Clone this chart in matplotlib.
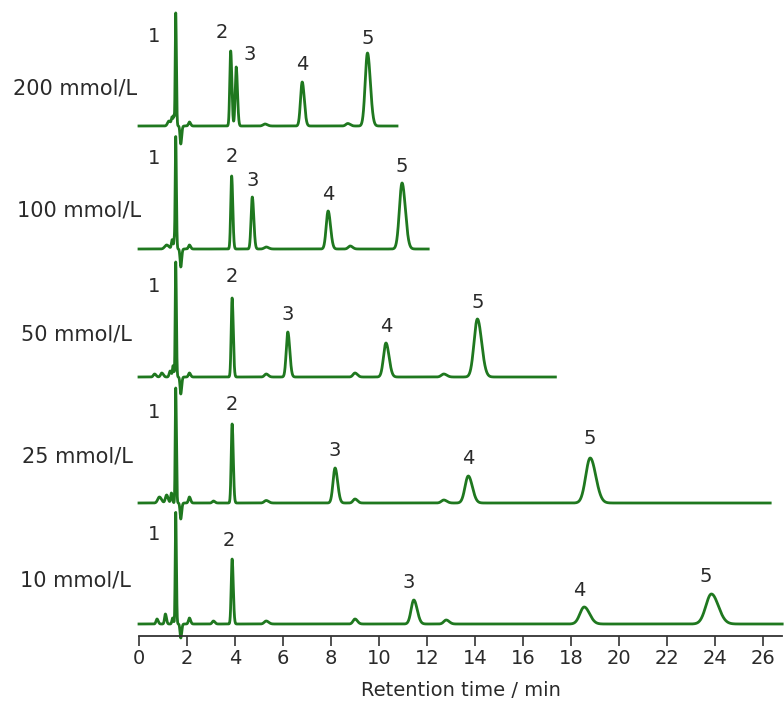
#!/usr/bin/env python3
# Stacked ion chromatograms at five eluent concentrations (peaks 1-5)
import numpy as np
import matplotlib
matplotlib.use("Agg")
import matplotlib.pyplot as plt

# ---- data (times in min, heights in px-ish units) ----
concs = ["200 mmol/L", "100 mmol/L", "50 mmol/L", "25 mmol/L", "10 mmol/L"]
run_end = [10.75, 12.05, 17.35, 26.3, 26.8]

# main analyte peaks 1..5
rt_200 = [1.53, 3.82, 4.05, 6.80, 9.52]
h_200 = [113, 75, 59, 44, 73]
sd_200 = [0.022, 0.038, 0.042, 0.070, 0.095]

rt_100 = [1.53, 3.86, 4.72, 7.88, 10.96]
h_100 = [112, 73, 52, 38, 66]
sd_100 = [0.022, 0.038, 0.050, 0.080, 0.110]

rt_50 = [1.53, 3.88, 6.20, 10.29, 14.10]
h_50 = [115, 79, 45, 34, 58]
sd_50 = [0.022, 0.038, 0.065, 0.102, 0.140]

rt_25 = [1.53, 3.88, 8.17, 13.72, 18.80]
h_25 = [115, 79, 35, 27, 45]
sd_25 = [0.022, 0.038, 0.085, 0.135, 0.185]

rt_10 = [1.53, 3.88, 11.45, 18.55, 23.85]
h_10 = [112, 65, 24, 17, 30]
sd_10 = [0.022, 0.038, 0.112, 0.178, 0.230]

# small system peaks / dip after the void peak
mrt_200 = [1.25, 1.38, 1.45, 1.74, 2.10, 5.25, 8.70]
mh_200 = [5, 8, 9, -18, 4, 2, 2.5]
msd_200 = [0.06, 0.03, 0.02, 0.03, 0.04, 0.08, 0.08]

mrt_100 = [1.15, 1.38, 1.47, 1.74, 2.10, 5.30, 8.80]
mh_100 = [4, 9, 9, -18, 4, 2, 3]
msd_100 = [0.08, 0.03, 0.02, 0.03, 0.04, 0.08, 0.08]

mrt_50 = [0.65, 0.95, 1.30, 1.42, 1.74, 2.10, 5.30, 9.00, 12.70]
mh_50 = [3, 4, 6, 11, -17, 4, 3, 4, 3]
msd_50 = [0.05, 0.05, 0.04, 0.025, 0.03, 0.04, 0.07, 0.08, 0.10]

mrt_25 = [0.85, 1.15, 1.35, 1.74, 2.10, 3.10, 5.30, 9.00, 12.70]
mh_25 = [6, 8, 10, -16, 6, 2, 2.5, 4, 3]
msd_25 = [0.07, 0.05, 0.03, 0.03, 0.04, 0.05, 0.08, 0.08, 0.10]

mrt_10 = [0.75, 1.10, 1.40, 1.74, 2.10, 3.10, 5.30, 9.00, 12.80]
mh_10 = [5, 10, 6, -14, 6, 3, 3, 5, 4]
msd_10 = [0.04, 0.035, 0.03, 0.03, 0.04, 0.05, 0.08, 0.08, 0.10]

xticks = list(range(0, 27, 2))

runs = [
    (rt_200, h_200, sd_200, mrt_200, mh_200, msd_200),
    (rt_100, h_100, sd_100, mrt_100, mh_100, msd_100),
    (rt_50, h_50, sd_50, mrt_50, mh_50, msd_50),
    (rt_25, h_25, sd_25, mrt_25, mh_25, msd_25),
    (rt_10, h_10, sd_10, mrt_10, mh_10, msd_10),
]

# ---- layout (pixels) ----
W, H = 784, 704
x0_px, axis_px, right_px = 139, 636, 782
px_per_min = 24.0
offsets = [510, 387, 259, 133, 12]          # baseline height above axis
label_gap = 17
# per-run label nudges (dx in min, dy in px) for peaks 2..5
nudges = [
    [(-0.35, 1), (0.55, -5), (0, 0), (0, -2)],
    [(0, 3), (0, 0), (0, 0), (0, 0)],
    [(0, 5), (0, 0), (0, 0), (0, 0)],
    [(0, 2), (0, 0), (0, 0), (0, 3)],
    [(-0.15, 2), (-0.2, 0), (-0.2, 0), (-0.25, 0)],
]
name_right = [-0.08, 0.08, -0.3, -0.25, -0.33]
name_dy = [37, 39, 42, 46, 44]

GREEN = "#1f781f"
TXT = "#2a2a2a"
plt.rcParams["font.family"] = ["DejaVu Sans"]

fig = plt.figure(figsize=(W / 100, H / 100), dpi=100)
ax = fig.add_axes([x0_px / W, (H - axis_px) / H,
                   (right_px - x0_px) / W, axis_px / H])
xmax = (right_px - x0_px) / px_per_min
ax.set_xlim(0, xmax)
ax.set_ylim(0, axis_px)


def chromatogram(t, rts, hs, sds, tail=1.25):
    y = np.zeros_like(t)
    for rt, h, sd in zip(rts, hs, sds):
        s = np.where(t < rt, sd, sd * tail)
        y += h * np.exp(-0.5 * ((t - rt) / s) ** 2)
    return y


for i, (rts, hs, sds, mrts, mhs, msds) in enumerate(runs):
    t = np.linspace(0, run_end[i], 6000)
    y = chromatogram(t, rts + mrts, hs + mhs, sds + msds)
    base = offsets[i]
    ax.plot(t, y + base, color=GREEN, lw=2.0, clip_on=False,
            solid_joinstyle="round")

    # peak numbers
    ax.text(0.62, base + 90, "1", fontsize=14, color=TXT,
            ha="center", va="center")
    for k in range(1, 5):
        dx, dy = nudges[i][k - 1]
        ax.text(rts[k] + dx, base + hs[k] + label_gap + dy, str(k + 1),
                fontsize=14, color=TXT, ha="center", va="center")

    ax.text(name_right[i], base + name_dy[i], concs[i], fontsize=15,
            color=TXT, ha="right", va="center", clip_on=False)

for s in ["left", "right", "top"]:
    ax.spines[s].set_visible(False)
ax.spines["bottom"].set_color("#333333")
ax.spines["bottom"].set_linewidth(1.3)
ax.spines["bottom"].set_bounds(0, xmax)
ax.set_yticks([])
ax.set_xticks(xticks)
ax.tick_params(axis="x", direction="out", length=7, width=1.2,
               color="#333333", labelsize=14, labelcolor=TXT, pad=2)
ax.set_xlabel("Retention time / min", fontsize=14, color=TXT, labelpad=10)

fig.savefig("out.png", dpi=100)
plt.close(fig)
